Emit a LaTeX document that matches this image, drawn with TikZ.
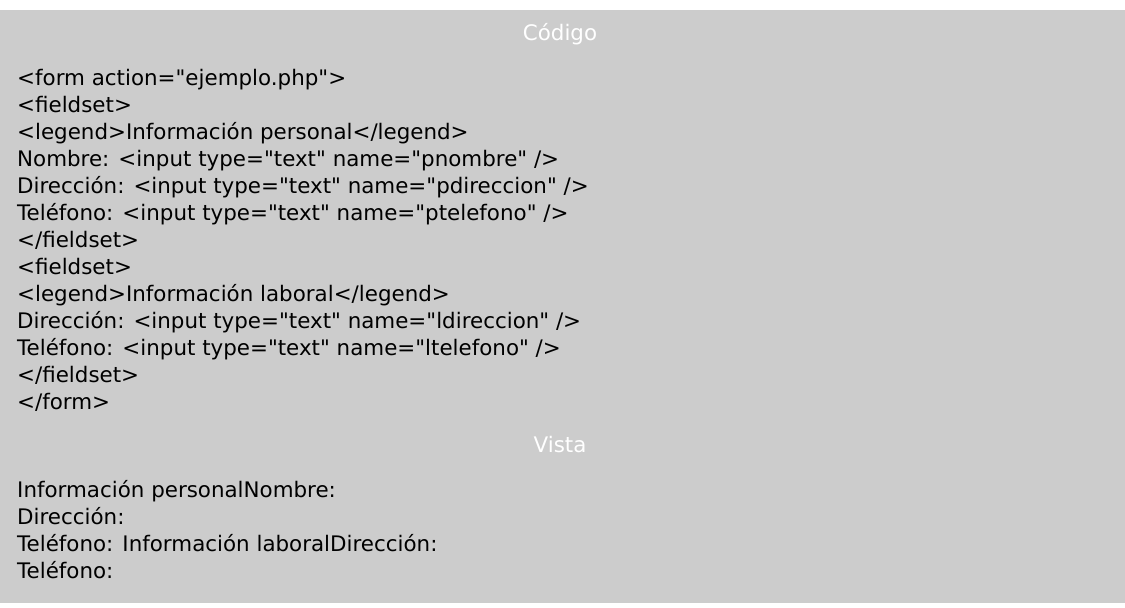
\documentclass[tikz,border=0pt]{standalone}
\usepackage{fontspec}
\setmainfont{DejaVu Sans}[Ligatures=TeXOff]
\usetikzlibrary{positioning}
\definecolor{fondo}{RGB}{204,204,204}
\begin{document}
\begin{tikzpicture}[x=1pt,y=-1pt,
    linea/.style={anchor=base west,inner sep=0pt,font=\fontsize{21.4}{26}\selectfont},
    titulo/.style={anchor=base,inner sep=0pt,text=white,font=\fontsize{21.4}{26}\selectfont}]
    \useasboundingbox (0,0) rectangle (1125,608);
    \fill[fondo] (0,10) rectangle (1125,603);
    \node[titulo] (cod) at (560,40) {Código};
    \node[linea] (l1) at (17,85) {<form action="ejemplo.php">};
    \node[linea] (l2) at (17,112) {<fieldset>};
    \node[linea] (l3) at (17,139) {<legend>Información personal</legend>};
    \node[linea] (l4) at (17,166) {Nombre: <input type="text" name="pnombre" />};
    \node[linea] (l5) at (17,193) {Dirección: <input type="text" name="pdireccion" />};
    \node[linea] (l6) at (17,220) {Teléfono: <input type="text" name="ptelefono" />};
    \node[linea] (l7) at (17,247) {</fieldset>};
    \node[linea] (l8) at (17,274) {<fieldset>};
    \node[linea] (l9) at (17,301) {<legend>Información laboral</legend>};
    \node[linea] (l10) at (17,328) {Dirección: <input type="text" name="ldireccion" />};
    \node[linea] (l11) at (17,355) {Teléfono: <input type="text" name="ltelefono" />};
    \node[linea] (l12) at (17,382) {</fieldset>};
    \node[linea] (l13) at (17,409) {</form>};
    \node[titulo] (vis) at (560,452) {Vista};
    \node[linea] (v1) at (17,497) {Información personalNombre:};
    \node[linea] (v2) at (17,524) {Dirección:};
    \node[linea] (v3) at (17,551) {Teléfono: Información laboralDirección:};
    \node[linea] (v4) at (17,578) {Teléfono:};
\end{tikzpicture}
\end{document}
